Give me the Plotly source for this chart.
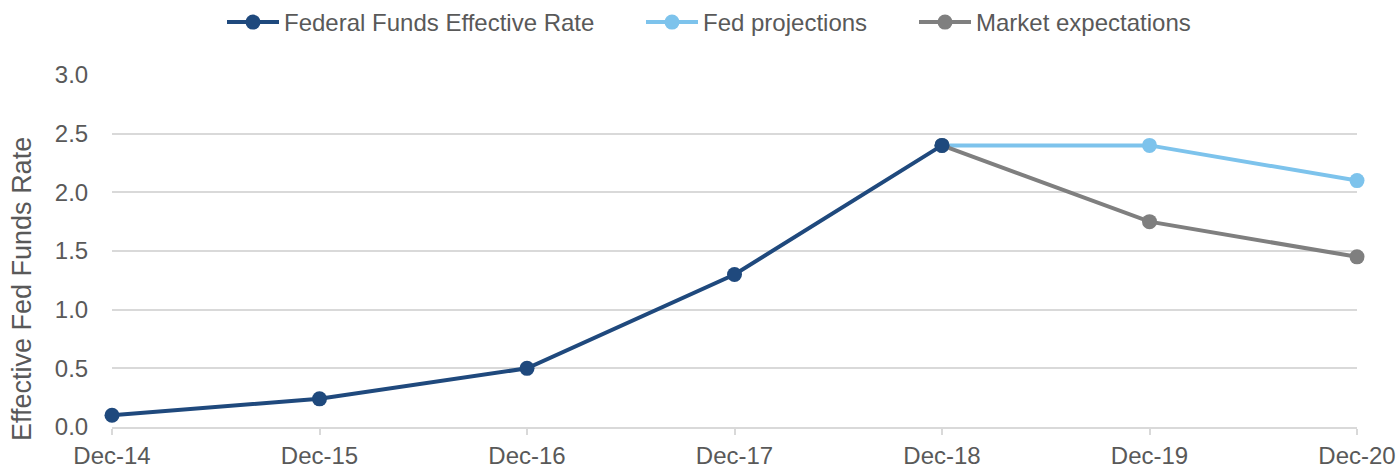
import plotly.graph_objects as go

categories = ["Dec-14", "Dec-15", "Dec-16", "Dec-17", "Dec-18", "Dec-19", "Dec-20"]
ffer = [0.10, 0.24, 0.50, 1.30, 2.40, None, None]
fed_proj = [None, None, None, None, 2.40, 2.40, 2.10]
market_exp = [None, None, None, None, 2.40, 1.75, 1.45]
y_ticks = [0.0, 0.5, 1.0, 1.5, 2.0, 2.5, 3.0]

x_idx = list(range(len(categories)))

fig = go.Figure()
fig.add_trace(go.Scatter(x=x_idx, y=fed_proj, name="Fed projections", mode="lines+markers",
                         line=dict(color="#7DC3EC", width=4), marker=dict(size=15, color="#7DC3EC"),
                         legend="legend2", cliponaxis=False))
fig.add_trace(go.Scatter(x=x_idx, y=market_exp, name="Market expectations", mode="lines+markers",
                         line=dict(color="#7F7F7F", width=4), marker=dict(size=15, color="#7F7F7F"),
                         legend="legend3", cliponaxis=False))
fig.add_trace(go.Scatter(x=x_idx, y=ffer, name="Federal Funds Effective Rate", mode="lines+markers",
                         line=dict(color="#1F497D", width=4), marker=dict(size=15, color="#1F497D"),
                         legend="legend", cliponaxis=False))

def leg(x):
    return dict(orientation="h", x=x, xanchor="left", xref="container", y=1.0, yanchor="top",
                yref="container", font=dict(size=24, color="#595959"), itemwidth=52,
                bgcolor="rgba(0,0,0,0)")

fig.update_layout(
    width=1400, height=468,
    margin=dict(l=112, r=43, t=75, b=41, autoexpand=False),
    paper_bgcolor="white", plot_bgcolor="white",
    font=dict(family="Liberation Sans, Arial, sans-serif", size=24, color="#595959"),
    legend=leg(222 / 1400), legend2=leg(641 / 1400), legend3=leg(914 / 1400),
    showlegend=True,
)
fig.update_xaxes(
    tickmode="array", tickvals=x_idx, ticktext=categories, range=[0, 6],
    showgrid=False, showline=True, linecolor="#D9D9D9", linewidth=2,
    ticks="outside", ticklen=6, tickwidth=2, tickcolor="#D9D9D9",
    tickfont=dict(size=24, color="#595959"), zeroline=False, automargin=False,
)
fig.update_yaxes(
    range=[0, 3], tickmode="array", tickvals=y_ticks,
    ticktext=[f"{v:.1f}" for v in y_ticks],
    showgrid=True, gridcolor="#D9D9D9", gridwidth=2, zeroline=False,
    ticks="outside", ticklen=18, tickcolor="rgba(0,0,0,0)",
    tickfont=dict(size=24, color="#595959"), automargin=False,
)
fig.add_annotation(
    text="Effective Fed Funds Rate", textangle=-90,
    xref="paper", x=(22 - 112) / 1245, xanchor="center",
    yref="paper", y=(427 - 289) / 352, yanchor="middle",
    showarrow=False, font=dict(size=27, color="#595959"),
)
fig.write_html("out.html")
